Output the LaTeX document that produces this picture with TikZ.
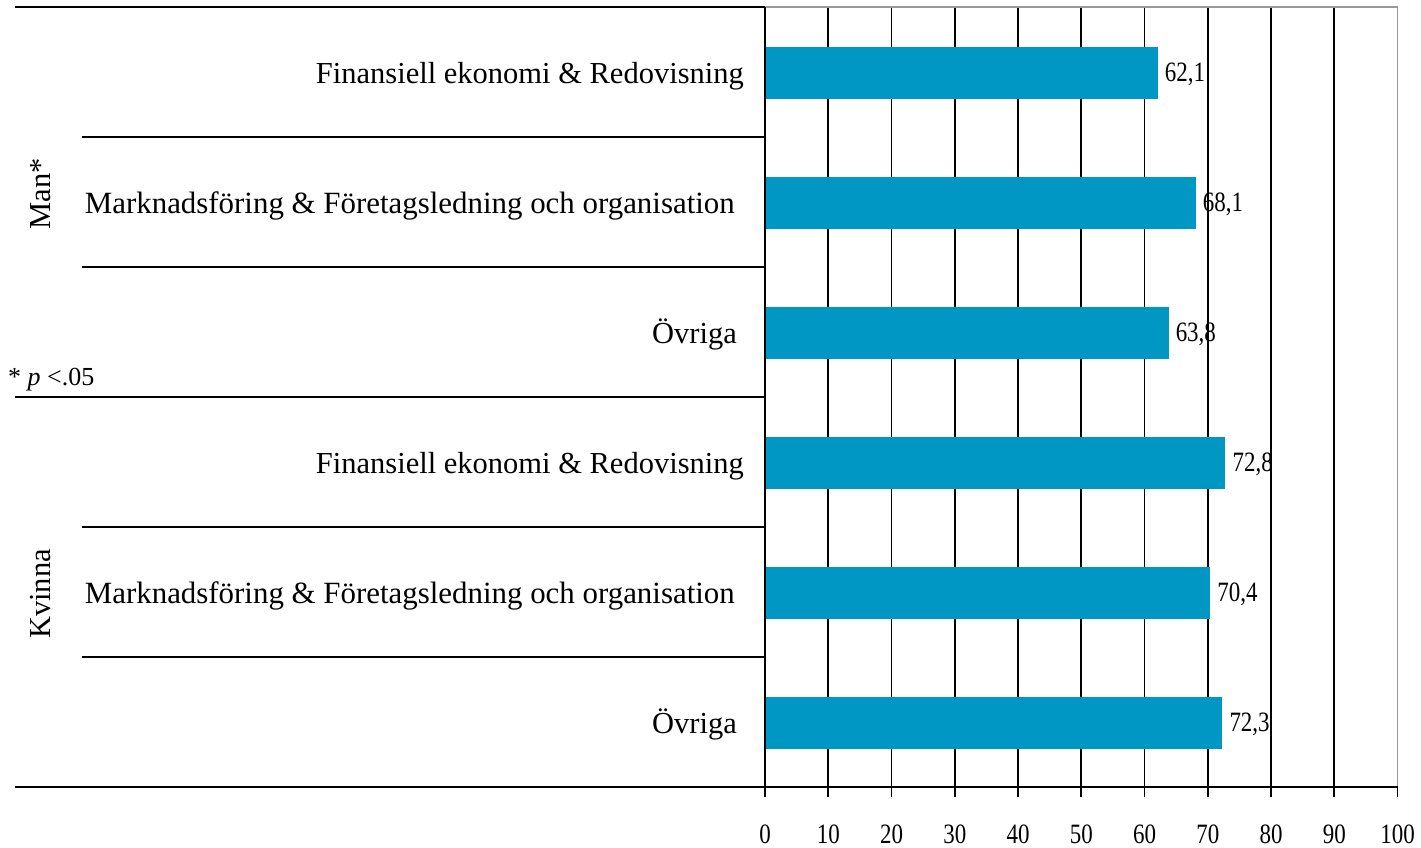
\documentclass[tikz,border=0pt]{standalone}
\usepackage{fontspec}
\setmainfont{Liberation Serif}
\usepackage{graphicx}
\definecolor{barblue}{HTML}{0097C4}
\definecolor{framegray}{HTML}{999999}
\tikzset{
  rule/.style={line width=1.6pt, black},
  gridline/.style={line width=1.6pt, black},
  framegrayline/.style={line width=1.6pt, framegray},
  barfill/.style={fill=barblue},
  catlabel/.style={anchor=base east, inner sep=0pt, font=\fontsize{30.5}{30.5}\selectfont},
  widelabel/.style={catlabel, font=\fontsize{30.9}{30.9}\selectfont},
  grouplabel/.style={anchor=base, rotate=90, inner sep=0pt, font=\fontsize{30.5}{30.5}\selectfont},
  numlabel/.style={inner sep=0pt, font=\fontsize{28}{28}\selectfont},
}
\newcommand{\narrow}[1]{\scalebox{0.82}[1]{#1}}
\begin{document}
\begin{tikzpicture}[x=1pt,y=-1pt]
\useasboundingbox[fill=white] (0,0) rectangle (1421,847);
% grid lines
\foreach \k in {1,...,9} {
  \draw[gridline] ({765+63.25*\k},7) -- ({765+63.25*\k},787);
}
% frame top and right (gray)
\draw[framegrayline] (765,7) -- (1397.5,7) -- (1397.5,787);
% left top rule
\draw[rule] (15,7) -- (765,7);
% separators
\foreach \yy in {137,267,527,657} {
  \draw[rule] (82,\yy) -- (765,\yy);
}
\draw[rule] (15,397) -- (765,397);
% bars
\foreach \c/\v/\lab [count=\i] in {72/62.1/{62,1},202/68.1/{68,1},332/63.8/{63,8},462/72.8/{72,8},592/70.4/{70,4},722/72.3/{72,3}} {
  \fill[barfill] (765,{\c-25}) rectangle ({765+6.325*\v},{\c+27});
  \node[numlabel, anchor=base west] (v\i) at ({765+6.325*\v+7},{\c+9.5}) {\narrow{\lab}};
}
% axis
\draw[rule] (765,7) -- (765,787);
\draw[rule] (15,787) -- (1397.5,787);
\foreach \k in {0,...,10} {
  \draw[rule] ({765+63.25*\k},787) -- ({765+63.25*\k},797);
  \pgfmathtruncatemacro{\tv}{10*\k}
  \node[numlabel, anchor=base] (t\k) at ({765+63.25*\k},843) {\narrow{\tv}};
}
% category labels
\node[catlabel] (c1) at (744,83) {Finansiell ekonomi \& Redovisning};
\node[widelabel] (c2) at (735,213) {Marknadsföring \& Företagsledning och organisation};
\node[catlabel] (c3) at (737,343) {Övriga};
\node[catlabel] (c4) at (744,473) {Finansiell ekonomi \& Redovisning};
\node[widelabel] (c5) at (735,603) {Marknadsföring \& Företagsledning och organisation};
\node[catlabel] (c6) at (737,733) {Övriga};
% group labels
\node[grouplabel] (g1) at (50,194) {Man*};
\node[grouplabel] (g2) at (50,594) {Kvinna};
% note
\node[anchor=base west, inner sep=0pt, font=\fontsize{26}{26}\selectfont] (note) at (8,385) {* \textit{p} <.05};
\end{tikzpicture}
\end{document}
